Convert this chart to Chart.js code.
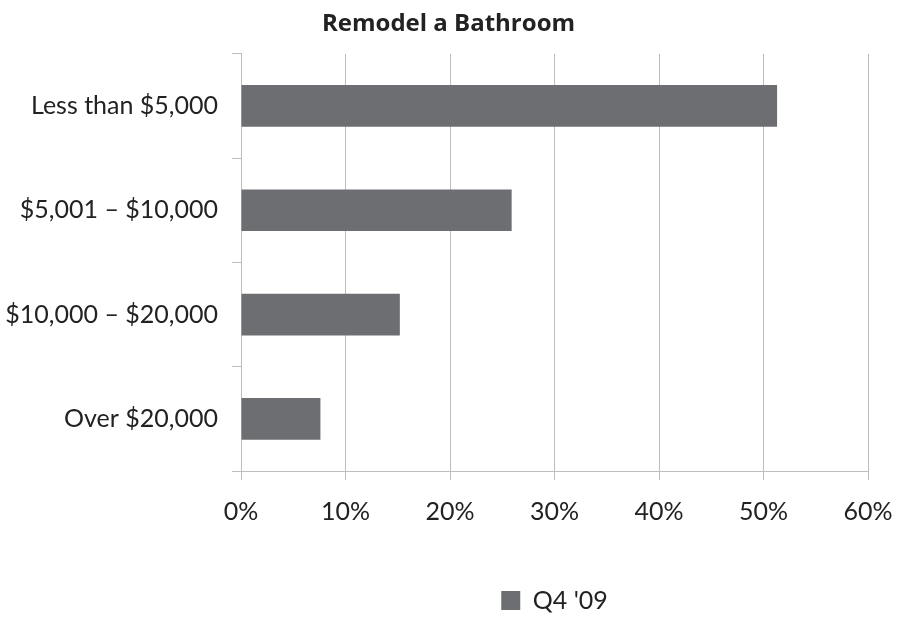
<!DOCTYPE html>
<html><head><meta charset="utf-8">
<script src="https://cdn.jsdelivr.net/npm/chart.js@4/dist/chart.umd.min.js"></script>
<style>html,body{margin:0;padding:0;background:#fff}#wrap{width:897px;height:617px}</style>
</head><body><div id="wrap"><canvas id="c"></canvas></div>
<script>
const categories = ["Less than $5,000", "$5,001 \u2013 $10,000", "$10,000 \u2013 $20,000", "Over $20,000"];
const seriesName = "Q4 '09";
const values = [51.3, 25.9, 15.2, 7.6];
const titleText = "Remodel a Bathroom";

const FONT = "Lato, 'Open Sans', sans-serif";
const shiftLegend = {
  id: 'shiftLegend',
  afterLayout(chart) {
    const lg = chart.legend, ca = chart.chartArea;
    if (lg) {
      lg.top += 6; lg.bottom += 6;
      lg.left = ca.left; lg.right = ca.right; lg.width = ca.right - ca.left;
    }
  }
};
new Chart(document.getElementById('c'), {
  type: 'bar',
  data: { labels: categories, datasets: [{ label: seriesName, data: values, backgroundColor: '#6d6e71', categoryPercentage: 1, barPercentage: 0.4 }] },
  plugins: [shiftLegend],
  options: {
    indexAxis: 'y', responsive: true, maintainAspectRatio: false, animation: false,
    layout: { padding: 0 },
    plugins: {
      title: { display: true, text: titleText, color: '#222', font: { family: "'Open Sans', sans-serif", size: 24, weight: 'bold' }, padding: { top: 10, bottom: 15 } },
      legend: { position: 'bottom', labels: { color: '#222', font: { family: FONT, size: 25 }, boxWidth: 19, boxHeight: 19, padding: 17 } },
      tooltip: { enabled: false }
    },
    scales: {
      x: { min: 0, max: 60, ticks: { stepSize: 10, callback: v => v + '%', color: '#222', font: { family: FONT, size: 25 }, padding: 17 },
           grid: { color: '#bdbdbd', tickLength: 9, lineWidth: 1 }, border: { color: '#bdbdbd' },
           afterFit: s => { s.paddingRight = 29; s.paddingLeft = 0; s.height = 94; } },
      y: { ticks: { color: '#222', font: { family: FONT, size: 25 }, padding: 14 },
           grid: { drawOnChartArea: false, color: '#bdbdbd', tickLength: 9 }, border: { color: '#bdbdbd' },
           afterFit: s => { s.width = 241; } }
    }
  }
});
</script></body></html>
